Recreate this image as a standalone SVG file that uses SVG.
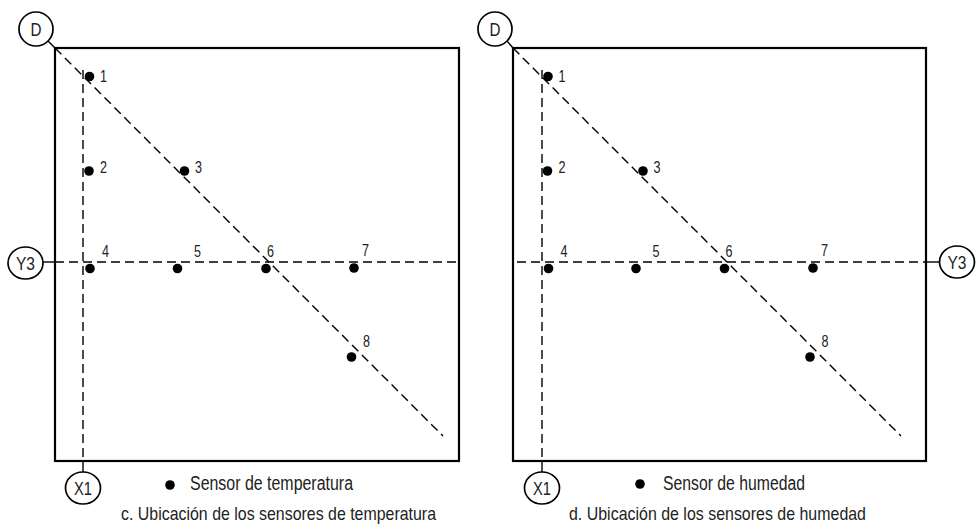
<svg xmlns="http://www.w3.org/2000/svg" width="977" height="525" viewBox="0 0 977 525">
<style>
.box{fill:none;stroke:#000;stroke-width:2.2}
.dash{fill:none;stroke:#000;stroke-width:1.4;stroke-dasharray:9 5}
.solid{fill:none;stroke:#000;stroke-width:1.4}
.bub{fill:#fff;stroke:#000;stroke-width:1.7}
.dot{fill:#000}
text{font-family:"Liberation Sans Narrow","Liberation Sans",Arial,sans-serif;fill:#222}
.num{font-size:17px}
.bt{font-size:19px;text-anchor:middle}
.leg{font-size:20px}
.cap{font-size:19px}
</style>
<rect width="977" height="525" fill="#fff"/>
<g id="panel-c">
<rect class="box" x="55" y="48" width="404" height="413"/>
<g id="connectors-c">
<line class="solid" x1="48" y1="41" x2="55" y2="48"/>
<line class="dash" x1="55" y1="48" x2="443" y2="436"/>
<line class="dash" x1="83" y1="70" x2="83" y2="461"/>
<line class="solid" x1="83" y1="461" x2="83" y2="472"/>
<line class="solid" x1="43" y1="262" x2="55" y2="262"/>
<line class="dash" x1="55" y1="262" x2="456" y2="262"/>
</g>
<g id="bubble-D-c"><circle class="bub" cx="36" cy="29" r="17"/><text class="bt" x="36" y="35.5" textLength="11" lengthAdjust="spacingAndGlyphs">D</text></g>
<g id="bubble-Y3-c"><ellipse class="bub" cx="25.5" cy="263" rx="17.5" ry="16"/><text class="bt" x="25.5" y="270" textLength="19" lengthAdjust="spacingAndGlyphs">Y3</text></g>
<g id="bubble-X1-c"><ellipse class="bub" cx="83" cy="488" rx="17.5" ry="16"/><text class="bt" x="83" y="495" textLength="18" lengthAdjust="spacingAndGlyphs">X1</text></g>
<g id="sensor-c1"><circle class="dot" cx="89.5" cy="76.5" r="4.8"/><text class="num" x="100" y="82" textLength="7" lengthAdjust="spacingAndGlyphs">1</text></g>
<g id="sensor-c2"><circle class="dot" cx="89" cy="171" r="4.8"/><text class="num" x="100" y="173" textLength="7" lengthAdjust="spacingAndGlyphs">2</text></g>
<g id="sensor-c3"><circle class="dot" cx="184.5" cy="171" r="4.8"/><text class="num" x="195" y="173" textLength="7" lengthAdjust="spacingAndGlyphs">3</text></g>
<g id="sensor-c4"><circle class="dot" cx="90" cy="268.5" r="4.8"/><text class="num" x="102" y="257" textLength="7" lengthAdjust="spacingAndGlyphs">4</text></g>
<g id="sensor-c5"><circle class="dot" cx="177.5" cy="268.5" r="4.8"/><text class="num" x="194" y="257" textLength="7" lengthAdjust="spacingAndGlyphs">5</text></g>
<g id="sensor-c6"><circle class="dot" cx="266" cy="268.5" r="4.8"/><text class="num" x="267" y="257" textLength="7" lengthAdjust="spacingAndGlyphs">6</text></g>
<g id="sensor-c7"><circle class="dot" cx="354" cy="268" r="4.8"/><text class="num" x="362" y="256" textLength="7" lengthAdjust="spacingAndGlyphs">7</text></g>
<g id="sensor-c8"><circle class="dot" cx="351.5" cy="357" r="4.8"/><text class="num" x="363" y="347" textLength="7" lengthAdjust="spacingAndGlyphs">8</text></g>
<g id="legend-c"><circle class="dot" cx="170" cy="485" r="4.8"/><text class="leg" x="190" y="490" textLength="163" lengthAdjust="spacingAndGlyphs">Sensor de temperatura</text></g>
<text class="cap" x="121" y="520" textLength="315" lengthAdjust="spacingAndGlyphs">c. Ubicación de los sensores de temperatura</text>
</g>
<g id="panel-d">
<rect class="box" x="513" y="48" width="413" height="413"/>
<g id="connectors-d">
<line class="solid" x1="507" y1="41" x2="513" y2="48"/>
<line class="dash" x1="513" y1="48" x2="901" y2="436"/>
<line class="dash" x1="542" y1="70" x2="542" y2="461"/>
<line class="solid" x1="542" y1="461" x2="542" y2="472"/>
<line class="dash" x1="517" y1="262" x2="926" y2="262"/>
<line class="solid" x1="926" y1="262" x2="939" y2="262"/>
</g>
<g id="bubble-D-d"><circle class="bub" cx="495" cy="29" r="17"/><text class="bt" x="495" y="35.5" textLength="11" lengthAdjust="spacingAndGlyphs">D</text></g>
<g id="bubble-Y3-d"><ellipse class="bub" cx="957" cy="262" rx="17.5" ry="16"/><text class="bt" x="957" y="269" textLength="19" lengthAdjust="spacingAndGlyphs">Y3</text></g>
<g id="bubble-X1-d"><ellipse class="bub" cx="542" cy="488" rx="17.5" ry="16"/><text class="bt" x="542" y="495" textLength="18" lengthAdjust="spacingAndGlyphs">X1</text></g>
<g id="sensor-d1"><circle class="dot" cx="548" cy="76.5" r="4.8"/><text class="num" x="558.5" y="82" textLength="7" lengthAdjust="spacingAndGlyphs">1</text></g>
<g id="sensor-d2"><circle class="dot" cx="547.5" cy="171" r="4.8"/><text class="num" x="558.5" y="173" textLength="7" lengthAdjust="spacingAndGlyphs">2</text></g>
<g id="sensor-d3"><circle class="dot" cx="643" cy="171" r="4.8"/><text class="num" x="653.5" y="173" textLength="7" lengthAdjust="spacingAndGlyphs">3</text></g>
<g id="sensor-d4"><circle class="dot" cx="548.5" cy="268.5" r="4.8"/><text class="num" x="560.5" y="257" textLength="7" lengthAdjust="spacingAndGlyphs">4</text></g>
<g id="sensor-d5"><circle class="dot" cx="636" cy="268.5" r="4.8"/><text class="num" x="652.5" y="257" textLength="7" lengthAdjust="spacingAndGlyphs">5</text></g>
<g id="sensor-d6"><circle class="dot" cx="724.5" cy="268.5" r="4.8"/><text class="num" x="725.5" y="257" textLength="7" lengthAdjust="spacingAndGlyphs">6</text></g>
<g id="sensor-d7"><circle class="dot" cx="813" cy="268" r="4.8"/><text class="num" x="821" y="256" textLength="7" lengthAdjust="spacingAndGlyphs">7</text></g>
<g id="sensor-d8"><circle class="dot" cx="810" cy="357" r="4.8"/><text class="num" x="821.5" y="347" textLength="7" lengthAdjust="spacingAndGlyphs">8</text></g>
<g id="legend-d"><circle class="dot" cx="640" cy="484" r="4.8"/><text class="leg" x="663" y="490" textLength="142" lengthAdjust="spacingAndGlyphs">Sensor de humedad</text></g>
<text class="cap" x="569" y="520" textLength="297" lengthAdjust="spacingAndGlyphs">d. Ubicación de los sensores de humedad</text>
</g>
</svg>
